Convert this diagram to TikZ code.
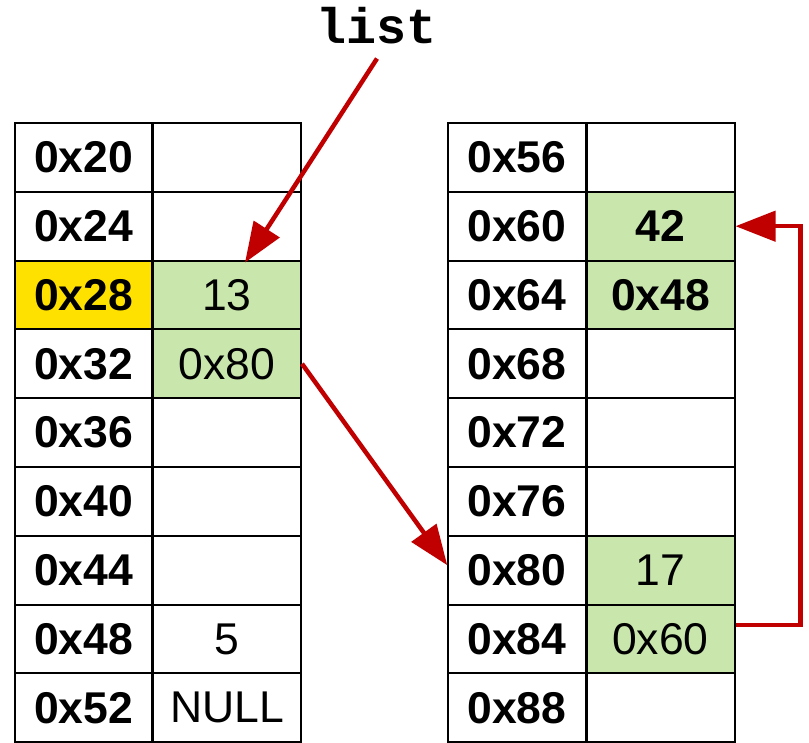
\documentclass[tikz,border=0pt]{standalone}
\usepackage{fontspec}
\setmainfont{Liberation Sans}
\setmonofont{Liberation Mono}
\usetikzlibrary{arrows.meta, backgrounds}

\definecolor{ptrred}{HTML}{C00000}
\definecolor{cellgreen}{HTML}{C9E6AD}
\definecolor{addryellow}{HTML}{FFE100}

\begin{document}
\begin{tikzpicture}[
    x=1pt, y=-1pt,
    cell/.style={draw, line width=2pt, minimum height=68.8pt, inner sep=0pt, font=\fontsize{44.5}{52}\selectfont},
    addr/.style={cell, minimum width=137.5pt, font=\fontsize{44.5}{52}\selectfont\bfseries},
    val/.style={cell, minimum width=148pt},
    used/.style={val, fill=cellgreen},
    usedb/.style={used, font=\fontsize{44.5}{52}\selectfont\bfseries},
    arr/.style={-{Triangle[length=40pt, width=30pt]}, line width=4.5pt, ptrred},
  ]
    \useasboundingbox (0,0) rectangle (809,743);

    % Left block of memory
    \foreach \a/\v/\s [count=\i] in {0x20/{}/val, 0x24/{}/val, 0x28/13/used, 0x32/0x80/used, 0x36/{}/val, 0x40/{}/val, 0x44/{}/val, 0x48/5/val, 0x52/NULL/val} {
      \node[addr] (la\i) at (83.5,{157.4+68.8*(\i-1)}) {\a};
      \node[\s] (lv\i) at (227,{157.4+68.8*(\i-1)}) {\v};
    }

    % Right block of memory
    \foreach \a/\v/\s [count=\i] in {0x56/{}/val, 0x60/42/usedb, 0x64/0x48/usedb, 0x68/{}/val, 0x72/{}/val, 0x76/{}/val, 0x80/17/used, 0x84/0x60/used, 0x88/{}/val} {
      \node[addr] (ra\i) at (517,{157.4+68.8*(\i-1)}) {\a};
      \node[\s] (rv\i) at (660.5,{157.4+68.8*(\i-1)}) {\v};
    }

    % Highlighted address
    \begin{scope}[on background layer]
      \fill[addryellow] (la3.north west) rectangle (la3.south east);
    \end{scope}

    % Head pointer
    \node[font=\fontsize{50}{58}\selectfont\ttfamily\bfseries, inner sep=0pt] (list) at (377,26) {list};

    % Pointers
    \draw[arr] ([yshift=-14pt]list.south) -- ([xshift=18pt,yshift=-3pt]lv3.north);
    \draw[arr] (lv4.east) -- ([yshift=5pt]ra7.west);
    \draw[arr] ([yshift=14pt]rv8.east) -- ++(65,0) |- (rv2.east);
  \end{tikzpicture}
\end{document}
